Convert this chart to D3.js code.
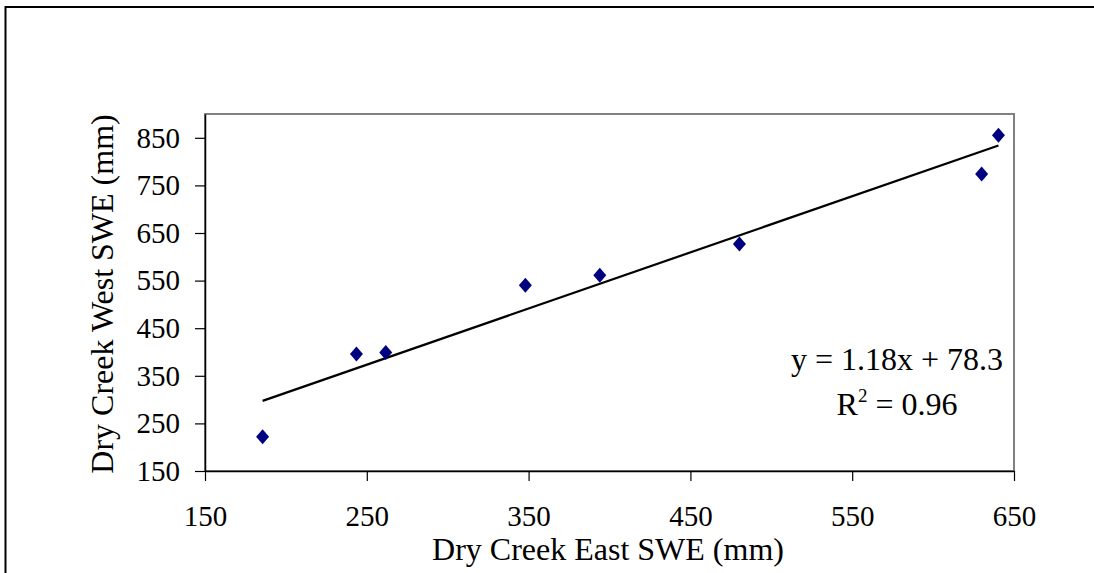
<!DOCTYPE html>
<html>
<head>
<meta charset="utf-8">
<script src="https://cdn.jsdelivr.net/npm/d3@7"></script>
<style>
  body { margin: 0; background: #fff; }
  svg { display: block; font-family: "Liberation Serif", "Times New Roman", serif; }
</style>
</head>
<body>
<div id="chart"></div>
<script>
(function () {
    // data
    var eastSWE = [185.6, 243.6, 261.7, 348, 394, 480.3, 630, 640.4];
    var westSWE = [222, 395.8, 399, 540, 561, 626.7, 773.7, 855.6];
    var xTicks = [150, 250, 350, 450, 550, 650];
    var yTicks = [150, 250, 350, 450, 550, 650, 750, 850];
    // trendline as printed on the chart
    var slope = 1.18, intercept = 78.3, rSquared = 0.96;

    var width = 1094, height = 573;
    var plot = { left: 205, top: 114, right: 1014, bottom: 471 };

    var svg = d3.select("#chart").append("svg")
        .attr("width", width).attr("height", height);

    // chart area border (only left and top show)
    svg.append("path")
        .attr("d", "M5.5," + height + "V7H" + width)
        .attr("fill", "none").attr("stroke", "#000").attr("stroke-width", 2);

    var x = d3.scaleLinear().domain([150, 650]).range([plot.left, plot.right]);
    var y = d3.scaleLinear().domain([150, 900]).range([plot.bottom, plot.top]);

    // plot area frame
    svg.append("rect")
        .attr("x", plot.left).attr("y", plot.top)
        .attr("width", plot.right - plot.left).attr("height", plot.bottom - plot.top)
        .attr("fill", "none").attr("stroke", "#808080").attr("stroke-width", 2);

    var xAxis = svg.append("g")
        .attr("transform", "translate(0," + plot.bottom + ")")
        .call(d3.axisBottom(x).tickValues(xTicks).tickSize(10).tickSizeOuter(0).tickPadding(24));

    var yAxis = svg.append("g")
        .attr("transform", "translate(" + plot.left + ",0)")
        .call(d3.axisLeft(y).tickValues(yTicks).tickSize(10).tickSizeOuter(0).tickPadding(15));

    [xAxis, yAxis].forEach(function (g) {
        g.select(".domain").attr("stroke", "#000").attr("stroke-width", 1.5);
        g.selectAll(".tick line").attr("stroke", "#000").attr("stroke-width", 1.2);
        g.selectAll(".tick text")
            .attr("fill", "#000")
            .style("font-family", "'Liberation Serif', 'Times New Roman', serif")
            .style("font-size", "29px");
    });

    // trendline across the data range
    var xr = d3.extent(eastSWE);
    svg.append("line")
        .attr("x1", x(xr[0])).attr("y1", y(slope * xr[0] + intercept))
        .attr("x2", x(xr[1])).attr("y2", y(slope * xr[1] + intercept))
        .attr("stroke", "#000").attr("stroke-width", 2.2);

    // diamond markers
    svg.append("g")
        .selectAll("path")
        .data(eastSWE.map(function (d, i) { return [d, westSWE[i]]; }))
        .join("path")
        .attr("d", "M0,-7.5L6.5,0L0,7.5L-6.5,0Z")
        .attr("transform", function (d) { return "translate(" + x(d[0]) + "," + y(d[1]) + ")"; })
        .attr("fill", "#000080");

    // equation text
    svg.append("text")
        .attr("x", 897).attr("y", 370)
        .attr("text-anchor", "middle")
        .style("font-size", "32px")
        .text("y = " + slope + "x + " + intercept);

    var r2 = svg.append("text")
        .attr("x", 897).attr("y", 415)
        .attr("text-anchor", "middle")
        .style("font-size", "32px");
    r2.append("tspan").text("R");
    r2.append("tspan").attr("dy", -13).style("font-size", "19px").text("2");
    r2.append("tspan").attr("dy", 13).text(" = " + rSquared);

    // axis titles
    svg.append("text")
        .attr("x", 608).attr("y", 560)
        .attr("text-anchor", "middle")
        .style("font-size", "32px")
        .text("Dry Creek East SWE (mm)");

    svg.append("text")
        .attr("transform", "translate(113,294) rotate(-90)")
        .attr("text-anchor", "middle")
        .style("font-size", "32px")
        .text("Dry Creek West SWE (mm)");
})();
</script>
</body>
</html>
